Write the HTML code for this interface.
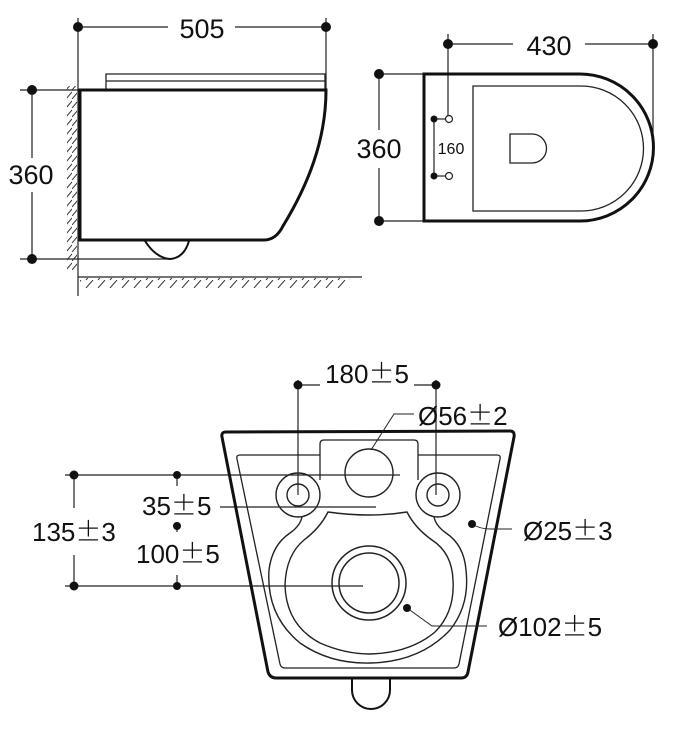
<!DOCTYPE html>
<html><head><meta charset="utf-8"><style>
html,body{margin:0;padding:0;background:#fff;width:674px;height:736px;overflow:hidden}
svg{display:block}
text{font-family:"Liberation Sans",sans-serif;fill:#111}
.pm{font-family:"Noto Sans CJK SC","Liberation Sans",sans-serif;font-weight:300}
</style></head><body>
<svg width="674" height="736" viewBox="0 0 674 736" xmlns="http://www.w3.org/2000/svg">
<defs>
<pattern id="hw" width="6" height="9" patternUnits="userSpaceOnUse"><line x1="0" y1="9" x2="6" y2="2" stroke="#333" stroke-width="1"/></pattern>
<pattern id="hf" width="12" height="8" patternUnits="userSpaceOnUse"><line x1="2" y1="8" x2="9" y2="0" stroke="#333" stroke-width="1"/></pattern>
</defs>
<g stroke="#222" stroke-width="1.2" fill="none">
<line x1="78" y1="18" x2="78" y2="296"/>
<line x1="326" y1="18" x2="326" y2="92"/>
<line x1="78" y1="27" x2="168" y2="27"/><line x1="235" y1="27" x2="326" y2="27"/>
<line x1="20" y1="90" x2="80" y2="90"/>
<line x1="20" y1="259" x2="172" y2="259"/>
<line x1="32" y1="90" x2="32" y2="158"/><line x1="32" y1="192" x2="32" y2="259"/>
<rect x="67" y="86" width="10" height="185" fill="url(#hw)" stroke="none"/>
<line x1="78" y1="277" x2="362" y2="277"/>
<rect x="80" y="278" width="270" height="10" fill="url(#hf)" stroke="none"/>
<path d="M106 90 V74 H325 V90 M106 81 H325" stroke-width="1.3"/>
<path d="M80 90 H326 C326 140 308 185 283 226 Q276 240 264 240 H80 Z" stroke="#111" stroke-width="3"/>
<path d="M145 241 Q156 258 170 259 Q184 258 189 241" stroke="#111" stroke-width="2"/>
<line x1="448" y1="34" x2="448" y2="116"/>
<line x1="653" y1="34" x2="653" y2="147"/>
<line x1="448" y1="44" x2="513" y2="44"/><line x1="585" y1="44" x2="653" y2="44"/>
<line x1="375" y1="74" x2="423" y2="74"/><line x1="375" y1="221" x2="423" y2="221"/>
<line x1="379" y1="74" x2="379" y2="130"/><line x1="379" y1="168" x2="379" y2="221"/>
<path d="M424 74 H580 A73.5 73.5 0 0 1 580 221 H424 Z" stroke="#111" stroke-width="3"/>
<path d="M473 86 H581 A62.5 62.5 0 0 1 581 211 H473 Z" stroke-width="1.3"/>
<path d="M510 134 H532 A14.5 14.5 0 0 1 532 163 H510 Z" stroke-width="1.3"/>
<circle cx="449" cy="119" r="3.5"/><circle cx="449" cy="176" r="3.5"/>
<line x1="434" y1="119" x2="446" y2="119"/><line x1="434" y1="176" x2="446" y2="176"/>
<line x1="434" y1="119" x2="434" y2="176"/>
<line x1="298" y1="380" x2="298" y2="495"/>
<line x1="436" y1="380" x2="436" y2="495"/>
<line x1="298" y1="385" x2="320" y2="385"/><line x1="414" y1="385" x2="436" y2="385"/>
<line x1="65" y1="475" x2="400" y2="475"/>
<line x1="65" y1="586" x2="363" y2="586"/>
<line x1="74" y1="475" x2="74" y2="508"/><line x1="74" y1="555" x2="74" y2="586"/>
<line x1="177" y1="475" x2="177" y2="486"/><line x1="177" y1="526" x2="177" y2="532"/><line x1="177" y1="575" x2="177" y2="586"/>
<line x1="220" y1="507" x2="376" y2="507"/>
<path d="M226 432 Q221 432 222 437 L268 672 Q270 678 276 678 H461 Q467 678 468 672 L514 437 Q515 431 510 431 Z" stroke="#111" stroke-width="3"/>
<path d="M320 455 H240 Q236 455 237 459 L280 664 Q281 668 285 668 H454 Q458 668 459 664 L500 459 Q501 455 497 455 H418" stroke-width="1.3"/>
<path d="M320 455 V444 Q320 440 324 440 H414 Q418 440 418 444 V480" stroke-width="1.3"/>
<path d="M320 455 V480" stroke-width="1.3"/>
<circle cx="369" cy="473" r="24" stroke-width="1.4"/>
<circle cx="298" cy="495" r="22" stroke-width="1.4"/><circle cx="298" cy="495" r="11" stroke-width="1.4"/>
<circle cx="438" cy="495" r="22" stroke-width="1.4"/><circle cx="438" cy="495" r="11" stroke-width="1.4"/>
<path d="M302 517 Q300 526 290 533 Q272 545 269 570 Q266 615 300 643 Q330 664 370 663 Q420 662 450 630 Q470 605 466 570 Q464 545 446 533 Q436 526 434 517" stroke-width="1.4"/>
<path d="M328 512 Q320 528 304 540 Q286 555 285 585 Q286 625 320 643 Q345 654 370 654 Q410 653 435 632 Q455 612 453 580 Q452 553 432 540 Q415 528 407 512 Q370 518 328 512 Z" stroke-width="1.4"/>
<circle cx="369" cy="583" r="37" stroke-width="1.5"/><circle cx="369" cy="583" r="30" stroke-width="1.5"/>
<path d="M352 679 V690 A19 19 0 0 0 390 690 V679" stroke="#111" stroke-width="2"/>
<path d="M371 450 L394 414 H414" stroke-width="1"/>
<path d="M472 524 Q480 529 490 529 H512" stroke-width="1"/>
<path d="M407 608 L432 626 H487" stroke-width="1"/>
</g>
<g fill="#111">
<circle cx="78" cy="27" r="5"/><circle cx="326" cy="27" r="5"/>
<circle cx="32" cy="90" r="5"/><circle cx="32" cy="259" r="5"/>
<circle cx="448" cy="44" r="5"/><circle cx="653" cy="44" r="5"/>
<circle cx="379" cy="74" r="5"/><circle cx="379" cy="221" r="5"/>
<circle cx="434" cy="119" r="3.5"/><circle cx="434" cy="176" r="3.5"/>
<circle cx="298" cy="385" r="4.5"/><circle cx="436" cy="385" r="4.5"/>
<circle cx="74" cy="475" r="4.5"/><circle cx="74" cy="586" r="4.5"/>
<circle cx="177" cy="475" r="4"/><circle cx="177" cy="526" r="4"/><circle cx="177" cy="586" r="4"/>
<circle cx="472" cy="524" r="4"/><circle cx="407" cy="608" r="4"/>
</g>
<text x="202" y="38" font-size="27" text-anchor="middle">505</text>
<text x="31" y="184" font-size="27" text-anchor="middle">360</text>
<text x="549" y="55" font-size="27" text-anchor="middle">430</text>
<text x="379" y="158" font-size="27" text-anchor="middle">360</text>
<text x="451" y="154" font-size="16" text-anchor="middle">160</text>
<text x="367" y="383" font-size="26" text-anchor="middle">180<tspan class="pm">±</tspan>5</text>
<text x="418" y="425" font-size="26">Ø56<tspan class="pm">±</tspan>2</text>
<text x="142" y="515" font-size="26">35<tspan class="pm">±</tspan>5</text>
<text x="32" y="541" font-size="26">135<tspan class="pm">±</tspan>3</text>
<text x="136" y="563" font-size="26">100<tspan class="pm">±</tspan>5</text>
<text x="523" y="540" font-size="26">Ø25<tspan class="pm">±</tspan>3</text>
<text x="498" y="636" font-size="26">Ø102<tspan class="pm">±</tspan>5</text>
</svg>
</body></html>
